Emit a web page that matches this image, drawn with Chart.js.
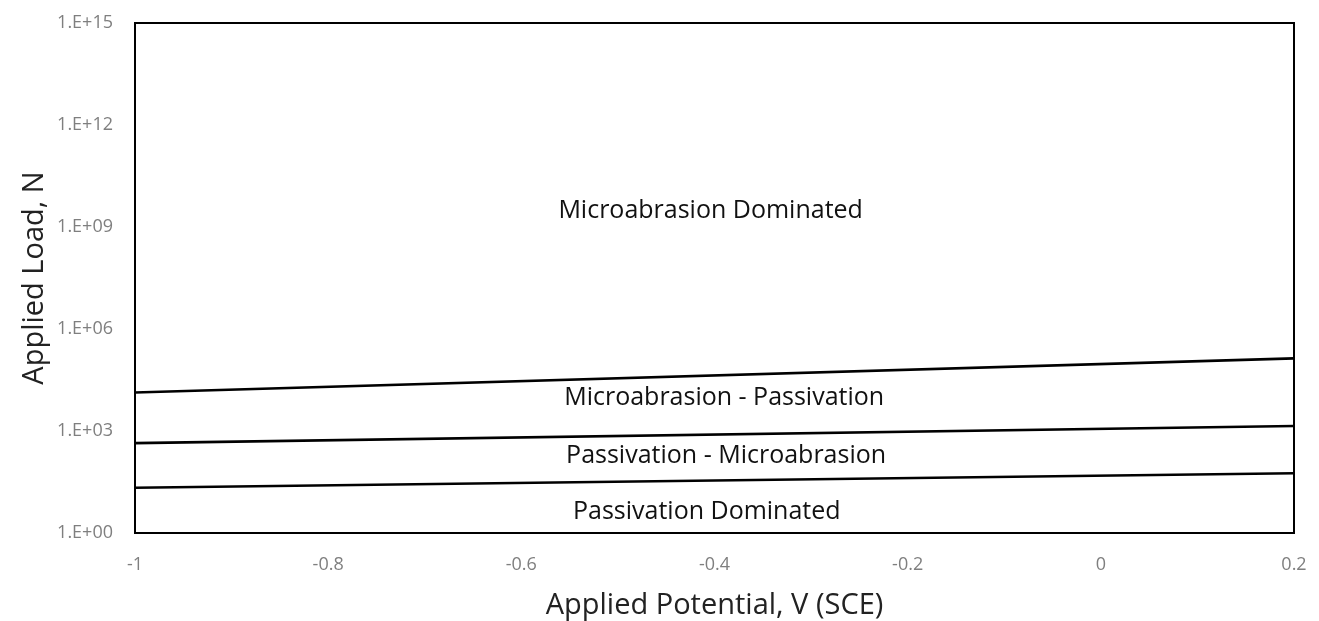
<!DOCTYPE html>
<html>
<head>
<meta charset="utf-8">
<script src="https://cdn.jsdelivr.net/npm/chart.js@4.4.1/dist/chart.umd.min.js"></script>
<style>
  html, body { margin: 0; padding: 0; background: #fff; }
  #wrap { width: 1319px; height: 621px; }
</style>
</head>
<body>
<div id="wrap"><canvas id="grafico"></canvas></div>
<script>
// potencial aplicado (V SCE) en los extremos de cada frontera
const potencial = [-1, 0.2];
// fronteras entre regimenes (carga en N)
const fronteraSuperior = [1.35e4, 1.37e5];
const fronteraMedia = [440, 1410];
const fronteraInferior = [21.5, 57];

const ticksX = [-1, -0.8, -0.6, -0.4, -0.2, 0, 0.2];
const ticksY = [1, 1e3, 1e6, 1e9, 1e12, 1e15];
const etiquetasY = ["1.E+00", "1.E+03", "1.E+06", "1.E+09", "1.E+12", "1.E+15"];

// etiquetas de regiones en coordenadas de datos
const regiones = [
  { texto: "Microabrasion Dominated", x: -0.404, y: Math.pow(10, 9.47) },
  { texto: "Microabrasion - Passivation", x: -0.39, y: Math.pow(10, 3.97) },
  { texto: "Passivation - Microabrasion", x: -0.388, y: Math.pow(10, 2.26) },
  { texto: "Passivation Dominated", x: -0.408, y: Math.pow(10, 0.62) }
];

const fuente = "'Open Sans', 'DejaVu Sans', sans-serif";

function serie(valores) {
  return {
    data: potencial.map((x, i) => ({ x: x, y: valores[i] })),
    borderColor: "#000",
    borderWidth: 2.6,
    pointRadius: 0,
    fill: false,
    tension: 0
  };
}

const marcoYEtiquetas = {
  id: "marcoYEtiquetas",
  afterDatasetsDraw(chart) {
    const ctx = chart.ctx;
    const a = chart.chartArea;
    ctx.save();
    ctx.strokeStyle = "#000";
    ctx.lineWidth = 2;
    ctx.strokeRect(a.left, a.top, a.right - a.left, a.bottom - a.top);
    ctx.fillStyle = "#111";
    ctx.font = "25px " + fuente;
    ctx.textAlign = "center";
    ctx.textBaseline = "middle";
    regiones.forEach(r => {
      ctx.fillText(r.texto, chart.scales.x.getPixelForValue(r.x), chart.scales.y.getPixelForValue(r.y));
    });
    ctx.restore();
  }
};

new Chart(document.getElementById("grafico"), {
  type: "line",
  data: {
    datasets: [serie(fronteraSuperior), serie(fronteraMedia), serie(fronteraInferior)]
  },
  options: {
    responsive: true,
    maintainAspectRatio: false,
    animation: false,
    layout: { padding: { top: 23, right: 25, left: 0, bottom: 0 } },
    plugins: { legend: { display: false }, tooltip: { enabled: false } },
    scales: {
      x: {
        type: "linear",
        min: -1,
        max: 0.2,
        grid: { display: false, drawTicks: false },
        border: { display: false },
        afterBuildTicks: s => { s.ticks = ticksX.map(v => ({ value: v })); },
        afterFit: s => { s.height = 88; s.paddingLeft = 0; s.paddingRight = 0; },
        ticks: {
          color: "#7f7f7f",
          font: { family: fuente, size: 18 },
          padding: 21,
          maxRotation: 0,
          callback: v => String(Math.round(v * 10) / 10)
        },
        title: {
          display: true,
          text: "Applied Potential, V (SCE)",
          color: "#222",
          font: { family: fuente, size: 29 },
          padding: { top: 0, bottom: -2 }
        }
      },
      y: {
        type: "logarithmic",
        min: 1,
        max: 1e15,
        grid: { display: false, drawTicks: false },
        border: { display: false },
        afterBuildTicks: s => { s.ticks = ticksY.map(v => ({ value: v })); },
        afterFit: s => { s.width = 135; s.paddingTop = 0; s.paddingBottom = 0; },
        ticks: {
          color: "#7f7f7f",
          font: { family: fuente, size: 18 },
          padding: 22,
          callback: (v) => {
            const i = ticksY.indexOf(v);
            return i >= 0 ? etiquetasY[i] : "";
          }
        },
        title: {
          display: true,
          text: "Applied Load, N",
          color: "#222",
          font: { family: fuente, size: 29 },
          padding: { top: 17, bottom: 0 }
        }
      }
    }
  },
  plugins: [marcoYEtiquetas]
});
</script>
</body>
</html>
